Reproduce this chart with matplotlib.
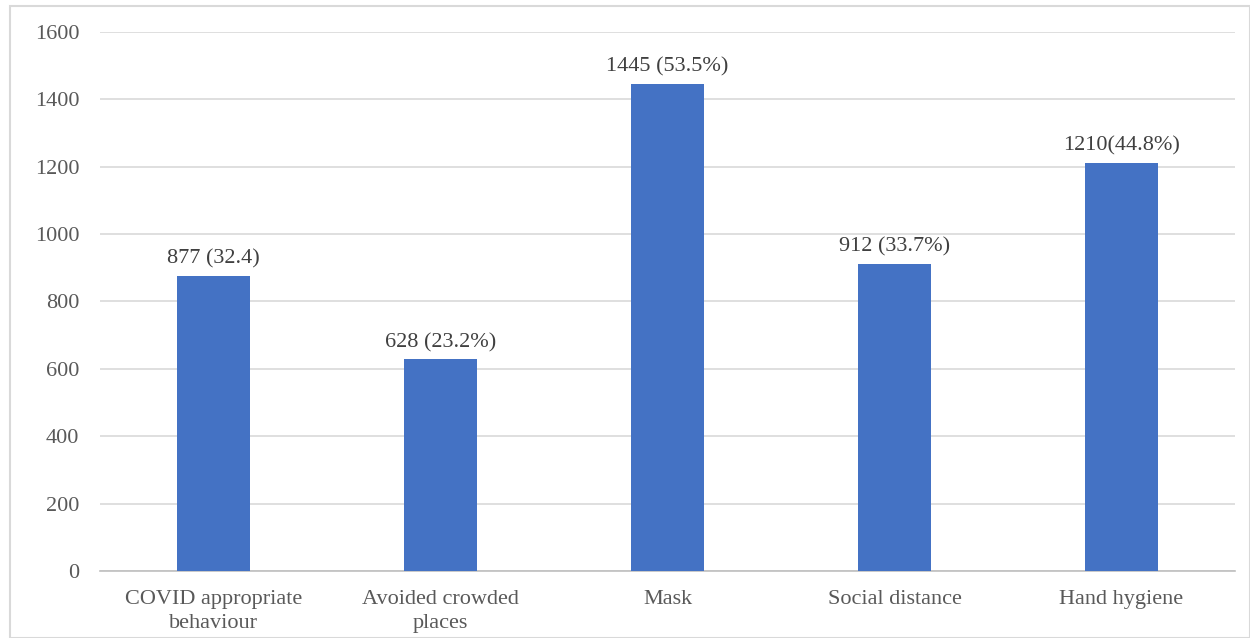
import matplotlib.pyplot as plt
from matplotlib.patches import Rectangle

categories = ["COVID appropriate\nbehaviour", "Avoided crowded\nplaces", "Mask",
              "Social distance", "Hand hygiene"]
counts = [877, 628, 1445, 912, 1210]
labels = ["877 (32.4)", "628 (23.2%)", "1445 (53.5%)", "912 (33.7%)", "1210(44.8%)"]
yticks = [0, 200, 400, 600, 800, 1000, 1200, 1400, 1600]

plt.rcParams['font.family'] = ['Liberation Serif', 'DejaVu Serif']

fig = plt.figure(figsize=(12.5, 6.38), dpi=100)
ax = fig.add_axes([0.08, 0.105, 0.908, 0.845])

# light frame around the whole chart
fig.patches.append(Rectangle((0.008, 0.0), 0.992, 0.99, transform=fig.transFigure,
                             fill=False, edgecolor='#d9d9d9', linewidth=1.5))

x = range(len(categories))
bars = ax.bar(x, counts, width=0.32, color='#4472C4', zorder=3)

for b, txt in zip(bars, labels):
    ax.text(b.get_x() + b.get_width() / 2, b.get_height() + 22, txt,
            ha='center', va='bottom', fontsize=16, color='#404040')

ax.set_xlim(-0.5, 4.5)
ax.set_ylim(0, 1600)
ax.set_yticks(yticks)
ax.set_xticks(list(x))
ax.set_xticklabels(categories, fontsize=16, color='#595959', linespacing=1.3)
ax.tick_params(axis='y', labelsize=16, labelcolor='#595959', length=0, pad=15)
ax.tick_params(axis='x', length=0, pad=14)

ax.grid(axis='y', color='#d9d9d9', linewidth=1.2, zorder=0)
for side in ['top', 'right', 'left']:
    ax.spines[side].set_visible(False)
ax.spines['bottom'].set_color('#bfbfbf')
ax.spines['bottom'].set_linewidth(1.2)

fig.savefig('out.png', dpi=100)
